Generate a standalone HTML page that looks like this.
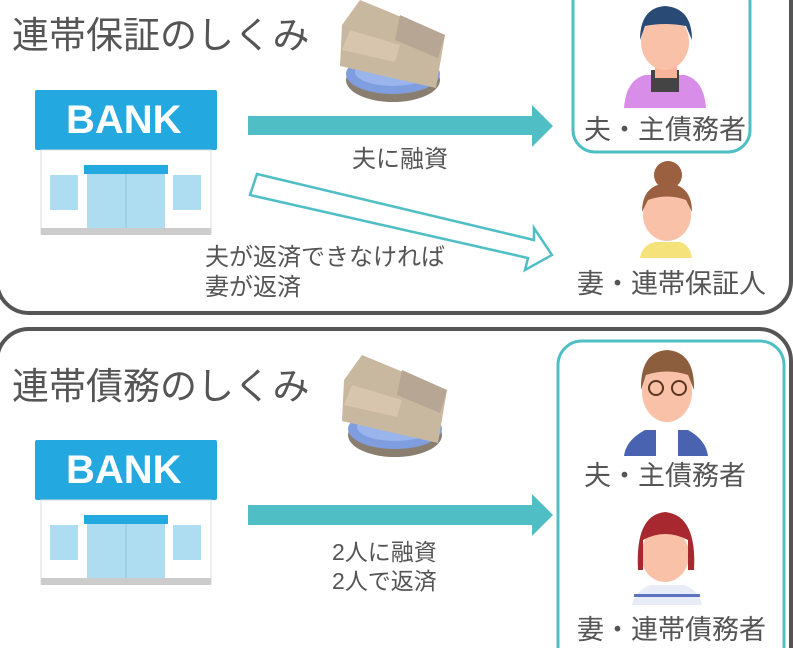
<!DOCTYPE html>
<html><head><meta charset="utf-8"><style>
html,body{margin:0;width:793px;height:648px;overflow:hidden}
body{background:#fff;position:relative;font-family:"Liberation Sans","Noto Sans CJK JP",sans-serif;color:#555}
.a{position:absolute}
.t{position:absolute;white-space:nowrap}
</style></head><body>
<svg class="a" style="left:0;top:0;overflow:hidden" width="793" height="648" viewBox="0 0 793 648">
<rect x="-3" y="-40" width="794" height="353" rx="32" fill="none" stroke="#555" stroke-width="4"/>
<rect x="-3" y="329" width="794" height="360" rx="32" fill="none" stroke="#555" stroke-width="4"/>
<rect x="573" y="-20" width="177" height="172" rx="22" fill="none" stroke="#4fbfc6" stroke-width="3"/>
<rect x="558" y="341" width="226" height="330" rx="24" fill="none" stroke="#4fbfc6" stroke-width="3"/>
<polygon points="248,116 532,116 532,105 553,126 532,147 532,135 248,135" fill="#50bfc5"/>
<polygon points="257,174 534,240 534,228 552,255 525,270 528,258 250,195" fill="#fff" stroke="#50bfc5" stroke-width="2.5"/>
<polygon points="248,505 532,505 532,494 553,515 532,536 532,525 248,525" fill="#50bfc5"/>
<g id="bank">
<rect x="35" y="90" width="182" height="60" rx="2" fill="#24a8e0"/>
<rect x="41" y="150" width="170" height="84" fill="#fff" stroke="#ddd" stroke-width="1"/>
<rect x="41" y="228" width="170" height="7" fill="#ccc"/>
<rect x="84" y="165" width="84" height="9" fill="#24a8e0"/>
<rect x="87" y="174" width="78" height="54" fill="#aedcf0"/>
<line x1="126" y1="174" x2="126" y2="228" stroke="#88c6e0" stroke-width="1"/>
<rect x="50" y="175" width="28" height="35" fill="#aedcf0"/>
<rect x="173" y="175" width="28" height="35" fill="#aedcf0"/>
</g>
<use href="#bank" transform="translate(0,350)"/>
<g id="money">
<ellipse cx="393" cy="80" rx="47" ry="22" fill="#8a7e70"/>
<ellipse cx="393" cy="74" rx="47" ry="20" fill="#7f9ee0"/>
<ellipse cx="393" cy="72" rx="38" ry="14" fill="#9ab5ec"/>
<polygon points="342,25 360,0 445,35 436,88 340,66" fill="#c9b8a0"/>
<polygon points="350,30 400,45 395,62 342,50" fill="#d7c5ad"/>
<polygon points="400,15 445,35 438,58 395,40" fill="#b8a694"/>
</g>
<use href="#money" transform="translate(2,355)"/>
<g>
<path d="M624,108 Q626,80 645,75 L685,75 Q704,80 706,108 Z" fill="#d88de8"/>
<rect x="651" y="70" width="28" height="22" fill="#444"/>
<rect x="655" y="62" width="22" height="16" fill="#f6b49a"/>
<ellipse cx="665" cy="42" rx="24" ry="28" fill="#f9c2a8"/>
<path d="M640,40 Q640,8 665,6 Q692,8 692,40 L686,26 Q665,22 645,26 Z" fill="#284a74"/>
</g>
<g>
<path d="M640,258 Q642,245 655,242 L680,242 Q690,245 692,258 Z" fill="#f5e27a"/>
<ellipse cx="667" cy="215" rx="24" ry="26" fill="#f9c2a8"/>
<path d="M642,212 Q642,185 667,183 Q692,185 692,212 L686,200 Q667,193 648,200 Z" fill="#9a6040"/>
<circle cx="668" cy="175" r="14" fill="#9a6040"/>
</g>
<g>
<path d="M624,456 Q626,440 645,430 L688,430 Q706,440 708,456 Z" fill="#4a63b0"/>
<rect x="656" y="430" width="22" height="26" fill="#fff"/>
<ellipse cx="667" cy="392" rx="25" ry="30" fill="#f9c2a8"/>
<path d="M641,390 Q640,352 667,350 Q695,352 694,390 L688,375 Q667,368 646,375 Z" fill="#8d5e3e"/>
<circle cx="656" cy="388" r="7" fill="none" stroke="#5a3520" stroke-width="2"/>
<circle cx="679" cy="388" r="7" fill="none" stroke="#5a3520" stroke-width="2"/>
</g>
<g>
<path d="M632,605 Q634,592 650,585 L685,585 Q700,592 702,605 Z" fill="#e8ecf6"/>
<rect x="634" y="594" width="66" height="3" fill="#5b74c0"/>
<ellipse cx="665" cy="555" rx="24" ry="27" fill="#f9c2a8"/>
<path d="M638,570 Q635,515 665,512 Q697,515 694,570 L688,570 L688,540 Q665,528 643,540 L643,570 Z" fill="#a82830"/>
</g>
</svg>
<div class="t" style="left:12px;top:5px;font-size:37px;color:#555">連帯保証のしくみ</div>
<div class="t" style="left:12px;top:356px;font-size:37px;color:#555">連帯債務のしくみ</div>
<div class="t" style="left:66px;top:98px;font-size:40px;font-weight:bold;color:#fff">BANK</div>
<div class="t" style="left:66px;top:448px;font-size:40px;font-weight:bold;color:#fff">BANK</div>
<div class="t" style="left:352px;top:139px;font-size:24px">夫に融資</div>
<div class="t" style="left:205px;top:243px;font-size:24px;line-height:30px">夫が返済できなければ<br>妻が返済</div>
<div class="t" style="left:332px;top:538px;font-size:23px;line-height:29px">2人に融資<br>2人で返済</div>
<div class="t" style="left:584px;top:108px;font-size:27px">夫・主債務者</div>
<div class="t" style="left:577px;top:262px;font-size:27px">妻・連帯保証人</div>
<div class="t" style="left:584px;top:454px;font-size:27px">夫・主債務者</div>
<div class="t" style="left:577px;top:608px;font-size:27px">妻・連帯債務者</div>
</body></html>
